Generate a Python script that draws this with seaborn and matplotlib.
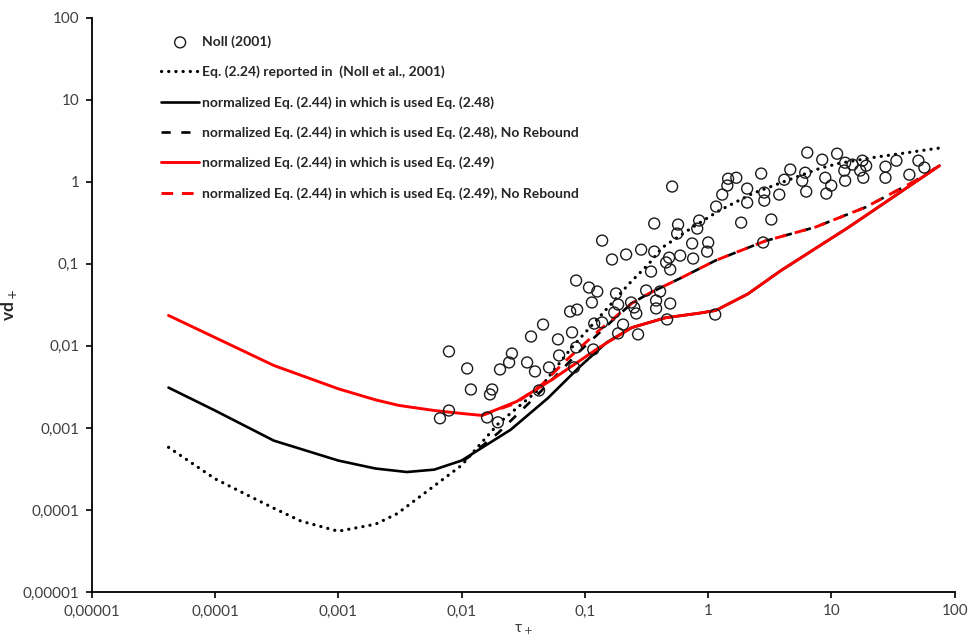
import matplotlib
matplotlib.use("Agg")
import matplotlib.pyplot as plt
import numpy as np
import pandas as pd
import seaborn as sns

# decade ticks, decimal comma as in the original
tick_values = [1e-5, 1e-4, 1e-3, 1e-2, 1e-1, 1, 10, 100]
tick_labels = ["0,00001", "0,0001", "0,001", "0,01", "0,1", "1", "10", "100"]

# Noll (2001) measurements
noll_tau = [0.00668, 0.0079, 0.0079, 0.0111, 0.0119, 0.0161, 0.0197, 0.017, 0.0177, 0.0205,
            0.0243, 0.0256, 0.034, 0.0394, 0.0366, 0.0458, 0.0425, 0.0512, 0.0605, 0.0618,
            0.0817, 0.0787, 0.0849, 0.0759, 0.0865, 0.0849, 0.108, 0.126, 0.114, 0.117,
            0.119, 0.138, 0.138, 0.166, 0.179, 0.186, 0.173, 0.186, 0.204, 0.216,
            0.237, 0.251, 0.261, 0.27, 0.286, 0.314, 0.365, 0.344, 0.378, 0.378,
            0.407, 0.365, 0.456, 0.482, 0.492, 0.492, 0.464, 0.51, 0.56, 0.57,
            0.593, 0.755, 0.741, 0.845, 0.815, 1.0, 0.98, 1.14, 1.16, 1.3,
            1.43, 1.45, 1.69, 1.85, 2.07, 2.07, 2.69, 2.85, 2.85, 3.25,
            2.79, 3.77, 4.14, 4.63, 5.79, 6.12, 6.24, 6.36, 8.41, 8.9,
            9.95, 9.08, 11.1, 12.9, 14.8, 17.8, 19.1, 17.1, 18.1, 12.9,
            12.7, 27.4, 27.4, 33.6, 42.8, 50.7, 56.6]
noll_vd = [0.00131, 0.00163, 0.00855, 0.0053, 0.00294, 0.00134, 0.00117, 0.00256, 0.00294, 0.00516,
           0.00628, 0.00807, 0.00628, 0.00488, 0.013, 0.0182, 0.00286, 0.00546, 0.012, 0.00764,
           0.00546, 0.0146, 0.00957, 0.0262, 0.0277, 0.0626, 0.0514, 0.046, 0.0338, 0.00904,
           0.0187, 0.0193, 0.192, 0.113, 0.0435, 0.0319, 0.0255, 0.0142, 0.0182, 0.13,
           0.0338, 0.0294, 0.0248, 0.0138, 0.149, 0.0473, 0.141, 0.0805, 0.0357, 0.0286,
           0.046, 0.31, 0.104, 0.119, 0.0853, 0.0328, 0.021, 0.875, 0.234, 0.301,
           0.126, 0.116, 0.177, 0.337, 0.269, 0.182, 0.141, 0.0241, 0.499, 0.698,
           0.9, 1.09, 1.12, 0.318, 0.826, 0.558, 1.26, 0.739, 0.59, 0.347,
           0.182, 0.698, 1.06, 1.41, 1.03, 1.29, 0.76, 2.27, 1.86, 1.12,
           0.9, 0.718, 2.2, 1.71, 1.62, 1.81, 1.57, 1.37, 1.12, 1.03,
           1.37, 1.53, 1.12, 1.81, 1.22, 1.81, 1.49]

# Eq. (2.24), Noll et al. 2001
eq224_tau = [4.2e-5, 1e-4, 2e-4, 3e-4, 5e-4, 1e-3, 2e-3, 3e-3, 5e-3, 0.01, 0.02, 0.042, 0.078,
             0.165, 0.229, 0.33, 0.424, 0.75, 1.23, 2.28, 4.3, 7.96, 11.3, 21.4, 78]
eq224_vd = [5.8e-4, 2.4e-4, 1.42e-4, 1.05e-4, 7.3e-5, 5.5e-5, 6.7e-5, 9.0e-5, 1.6e-4, 3.5e-4,
            1.14e-3, 2.9e-3, 9.5e-3, 0.033, 0.0575, 0.1, 0.158, 0.28, 0.446, 0.718, 1.03, 1.45,
            1.67, 1.97, 2.6]

# normalized Eq. (2.44) with Eq. (2.48)
eq248_tau = [4.2e-5, 1e-4, 3e-4, 1e-3, 2e-3, 3.6e-3, 6e-3, 0.01, 0.025, 0.05, 0.09, 0.15,
             0.24, 0.45, 0.84, 1.15, 2.1, 3.9, 13.8, 75]
eq248_vd = [3.1e-3, 1.63e-3, 7e-4, 4.0e-4, 3.2e-4, 2.9e-4, 3.1e-4, 4.0e-4, 9.5e-4, 2.3e-3,
            5.5e-3, 0.011, 0.0167, 0.022, 0.025, 0.027, 0.043, 0.083, 0.28, 1.57]

# same, no rebound
eq248nr_tau = [0.0105, 0.02, 0.042, 0.09, 0.165, 0.24, 0.33, 0.61, 1.15, 2.9, 7.4, 18.9, 48, 75]
eq248nr_vd = [4.0e-4, 8.8e-4, 2.6e-3, 8.5e-3, 0.02, 0.033, 0.0435, 0.068, 0.11, 0.19, 0.28, 0.49, 1.03, 1.57]

# normalized Eq. (2.44) with Eq. (2.49)
eq249_tau = [4.2e-5, 1e-4, 3e-4, 1e-3, 2e-3, 3.1e-3, 6e-3, 0.01, 0.0146, 0.028, 0.053, 0.13,
             0.24, 0.45, 0.84, 1.15, 2.1, 3.9, 13.8, 75]
eq249_vd = [0.0235, 0.01265, 5.77e-3, 3.0e-3, 2.2e-3, 1.88e-3, 1.63e-3, 1.5e-3, 1.42e-3, 2.1e-3,
            3.8e-3, 9.5e-3, 0.0167, 0.022, 0.025, 0.027, 0.043, 0.083, 0.28, 1.57]

# same, no rebound
eq249nr_tau = [0.0146, 0.0275, 0.045, 0.07, 0.13, 0.24, 0.33, 0.61, 1.15, 2.9, 7.4, 18.9, 48, 75]
eq249nr_vd = [1.42e-3, 2.0e-3, 3.4e-3, 6.6e-3, 0.0154, 0.033, 0.0435, 0.068, 0.11, 0.19, 0.28, 0.49, 1.03, 1.57]

sns.set_style("ticks")
plt.rcParams["font.family"] = ["Lato", "DejaVu Sans"]
plt.rcParams["mathtext.fontset"] = "dejavusans"

fig = plt.figure(figsize=(9.73, 6.42), dpi=100)
ax = fig.add_axes([0.0942, 0.0779, 0.8871, 0.8945])

sns.scatterplot(x=noll_tau, y=noll_vd, ax=ax, marker="o", s=62, facecolor="none",
                edgecolor="#1a1a1a", linewidth=1.0, zorder=5, label="Noll (2001)")

sns.lineplot(x=eq224_tau, y=eq224_vd, ax=ax, color="black", lw=2.3, sort=False, estimator=None,
             linestyle=(0, (0.05, 2.2)), dash_capstyle="round",
             label="Eq. (2.24) reported in  (Noll et al., 2001)")
sns.lineplot(x=eq248_tau, y=eq248_vd, ax=ax, color="black", lw=1.9, sort=False, estimator=None,
             label="normalized Eq. (2.44) in which is used Eq. (2.48)")
sns.lineplot(x=eq248nr_tau, y=eq248nr_vd, ax=ax, color="black", lw=1.9, sort=False, estimator=None,
             linestyle=(0, (3.5, 4.0)),
             label="normalized Eq. (2.44) in which is used Eq. (2.48), No Rebound")
sns.lineplot(x=eq249_tau, y=eq249_vd, ax=ax, color="#ff0000", lw=2.1, sort=False, estimator=None,
             label="normalized Eq. (2.44) in which is used Eq. (2.49)")
sns.lineplot(x=eq249nr_tau, y=eq249nr_vd, ax=ax, color="#ff0000", lw=2.1, sort=False, estimator=None,
             linestyle=(0, (4.0, 3.0)),
             label="normalized Eq. (2.44) in which is used Eq. (2.49), No Rebound")

ax.set_xscale("log")
ax.set_yscale("log")
ax.set_xlim(1e-5, 100)
ax.set_ylim(1e-5, 100)
ax.set_xticks(tick_values)
ax.set_xticklabels(tick_labels)
ax.set_yticks(tick_values)
ax.set_yticklabels(tick_labels)
ax.minorticks_off()
ax.tick_params(direction="out", length=4, width=1.2, color="black", labelsize=11,
               labelcolor="#404040", pad=5)
sns.despine(ax=ax)
for side in ["left", "bottom"]:
    ax.spines[side].set_color("black")
    ax.spines[side].set_linewidth(1.3)

ax.set_xlabel("τ$_+$", fontsize=11, color="#404040", labelpad=3)
ax.set_ylabel("vd$_+$", fontsize=12.5, fontweight="bold", color="#262626")
ax.yaxis.set_label_coords(-0.084, 0.5)

handles, labels = ax.get_legend_handles_labels()
leg = ax.legend(handles, labels, loc="upper left", bbox_to_anchor=(0.0695, 0.986), frameon=False,
                fontsize=10, handlelength=2.7, handletextpad=0.25, labelspacing=1.27,
                borderaxespad=0.3)
for t in leg.get_texts():
    t.set_fontweight("bold")
    t.set_color("#262626")

fig.savefig("out.png", dpi=100)
